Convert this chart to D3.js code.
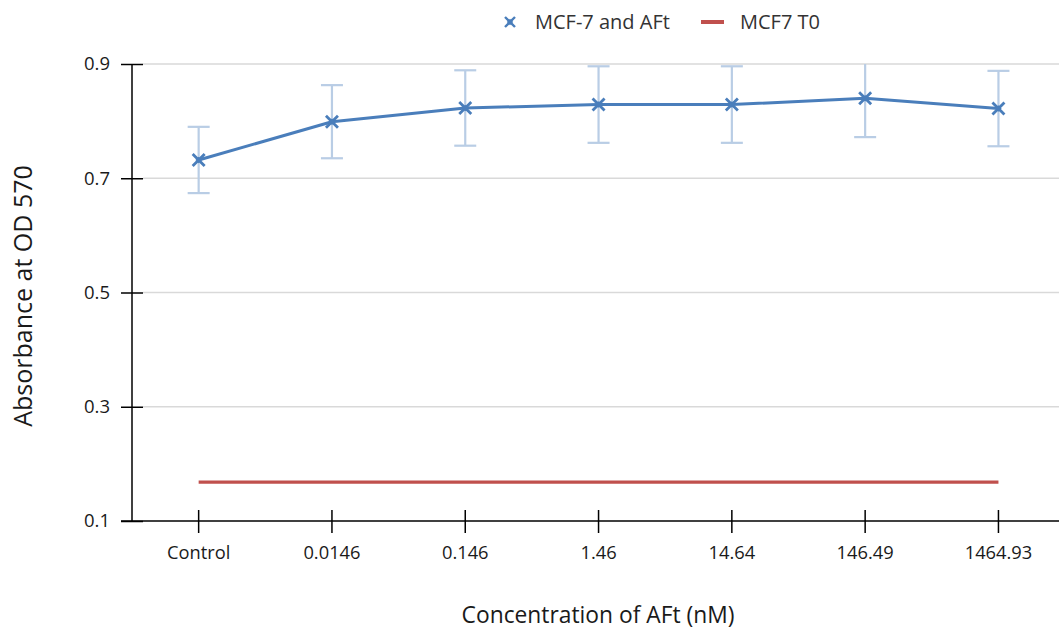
<!DOCTYPE html>
<html>
<head>
<meta charset="utf-8">
<script src="https://cdn.jsdelivr.net/npm/d3@7"></script>
<style>
  html, body { margin: 0; padding: 0; background: #fff; }
  svg { display: block; font-family: "Open Sans", "Noto Sans", sans-serif; }
</style>
</head>
<body>
<svg id="chart" width="1059" height="632"></svg>
<script>
// Concentrations of AFt (nM) on the category axis
const categories = ["Control", "0.0146", "0.146", "1.46", "14.64", "146.49", "1464.93"];
// Mean absorbance of MCF-7 cells treated with AFt
const afValues = [0.732, 0.799, 0.823, 0.829, 0.829, 0.840, 0.822];
// Standard error for each mean
const afErrors = [0.058, 0.064, 0.066, 0.067, 0.067, 0.068, 0.066];
// Baseline absorbance at time zero
const t0Values = [0.168, 0.168, 0.168, 0.168, 0.168, 0.168, 0.168];
const yTicks = [0.1, 0.3, 0.5, 0.7, 0.9];

const svg = d3.select("#chart");
const plotLeft = 132, plotTop = 64, plotBottom = 521, bandW = 133.3;
const plotRight = 1059;
const textColor = "#1a1a1a";

const x = d3.scaleBand().domain(categories).range([plotLeft, plotLeft + bandW * categories.length]);
const y = d3.scaleLinear().domain([0.1, 0.9]).range([plotBottom, plotTop]);
const cx = d => x(d) + x.bandwidth() / 2;

svg.append("defs").append("clipPath").attr("id", "plot")
  .append("rect").attr("x", plotLeft).attr("y", plotTop)
  .attr("width", plotRight - plotLeft).attr("height", plotBottom - plotTop);

// horizontal gridlines
svg.append("g").selectAll("line").data(yTicks.slice(1)).join("line")
  .attr("x1", plotLeft + 11).attr("x2", plotRight)
  .attr("y1", d => y(d)).attr("y2", d => y(d))
  .attr("stroke", "#d9d9d9").attr("stroke-width", 1.3);

// y axis
const yAxis = svg.append("g").attr("transform", `translate(${plotLeft},0)`)
  .call(d3.axisLeft(y).tickValues(yTicks).tickFormat(d3.format(".1f")).tickSize(11).tickPadding(11));
yAxis.select(".domain").attr("stroke", "#000").attr("stroke-width", 1.5).attr("d", `M0,${plotBottom}V${plotTop}`);
yAxis.selectAll(".tick line").attr("stroke", "#000").attr("stroke-width", 1.5).attr("x2", -11).attr("x1", 11);
yAxis.selectAll(".tick text").attr("font-size", 18.5).attr("fill", textColor).attr("font-family", "Open Sans");

// x axis
const xAxis = svg.append("g").attr("transform", `translate(0,${plotBottom})`)
  .call(d3.axisBottom(x).tickSize(12).tickPadding(13));
xAxis.select(".domain").attr("stroke", "#000").attr("stroke-width", 1.5).attr("d", `M${plotLeft - 11},0H${plotRight}`);
xAxis.selectAll(".tick line").attr("stroke", "#000").attr("stroke-width", 1.5).attr("y1", -11).attr("y2", 12);
xAxis.selectAll(".tick text").attr("font-size", 18.3).attr("fill", textColor).attr("font-family", "Open Sans");

// MCF7 T0 baseline
svg.append("path")
  .datum(categories.map((c, i) => [cx(c), y(t0Values[i])]))
  .attr("d", d3.line())
  .attr("fill", "none").attr("stroke", "#c0504d").attr("stroke-width", 3.2);

// error bars
const eb = svg.append("g").attr("clip-path", "url(#plot)")
  .attr("stroke", "#b9cde5").attr("stroke-width", 2.2).attr("fill", "none");
categories.forEach((c, i) => {
  const xc = cx(c), hi = y(afValues[i] + afErrors[i]), lo = y(afValues[i] - afErrors[i]);
  eb.append("line").attr("x1", xc).attr("x2", xc).attr("y1", hi).attr("y2", lo);
  if (afValues[i] + afErrors[i] <= 0.9)
    eb.append("line").attr("x1", xc - 11).attr("x2", xc + 11).attr("y1", hi).attr("y2", hi);
  eb.append("line").attr("x1", xc - 11).attr("x2", xc + 11).attr("y1", lo).attr("y2", lo);
});

// treatment series line
svg.append("path")
  .datum(categories.map((c, i) => [cx(c), y(afValues[i])]))
  .attr("d", d3.line())
  .attr("fill", "none").attr("stroke", "#4a7ebb").attr("stroke-width", 3)
  .attr("stroke-linejoin", "round");

// x-shaped markers with a small solid centre
const xMark = (g, px, py, s, w) => {
  g.append("path")
    .attr("d", `M${px - s},${py - s}L${px + s},${py + s}M${px - s},${py + s}L${px + s},${py - s}`)
    .attr("stroke", "#4a7ebb").attr("stroke-width", w).attr("fill", "none");
  g.append("path")
    .attr("d", `M${px},${py - 3.2}L${px + 3.2},${py}L${px},${py + 3.2}L${px - 3.2},${py}Z`)
    .attr("fill", "#4a7ebb");
};
const mg = svg.append("g");
categories.forEach((c, i) => xMark(mg, cx(c), y(afValues[i]), 6, 2.8));

// legend
const lg = svg.append("g").attr("font-size", 20).attr("fill", "#333");
xMark(lg, 510, 22, 5, 2.4);
lg.append("text").attr("x", 535).attr("y", 29).text("MCF-7 and AFt");
lg.append("line").attr("x1", 701).attr("x2", 724).attr("y1", 22).attr("y2", 22)
  .attr("stroke", "#c0504d").attr("stroke-width", 4);
lg.append("text").attr("x", 740).attr("y", 29).text("MCF7 T0");

// axis titles
svg.append("text").attr("x", 598).attr("y", 623).attr("text-anchor", "middle")
  .attr("font-size", 22.8).attr("fill", textColor).text("Concentration of AFt (nM)");
svg.append("text").attr("transform", "translate(32,296) rotate(-90)").attr("text-anchor", "middle")
  .attr("font-size", 25).attr("fill", textColor).text("Absorbance at OD 570");
</script>
</body>
</html>
